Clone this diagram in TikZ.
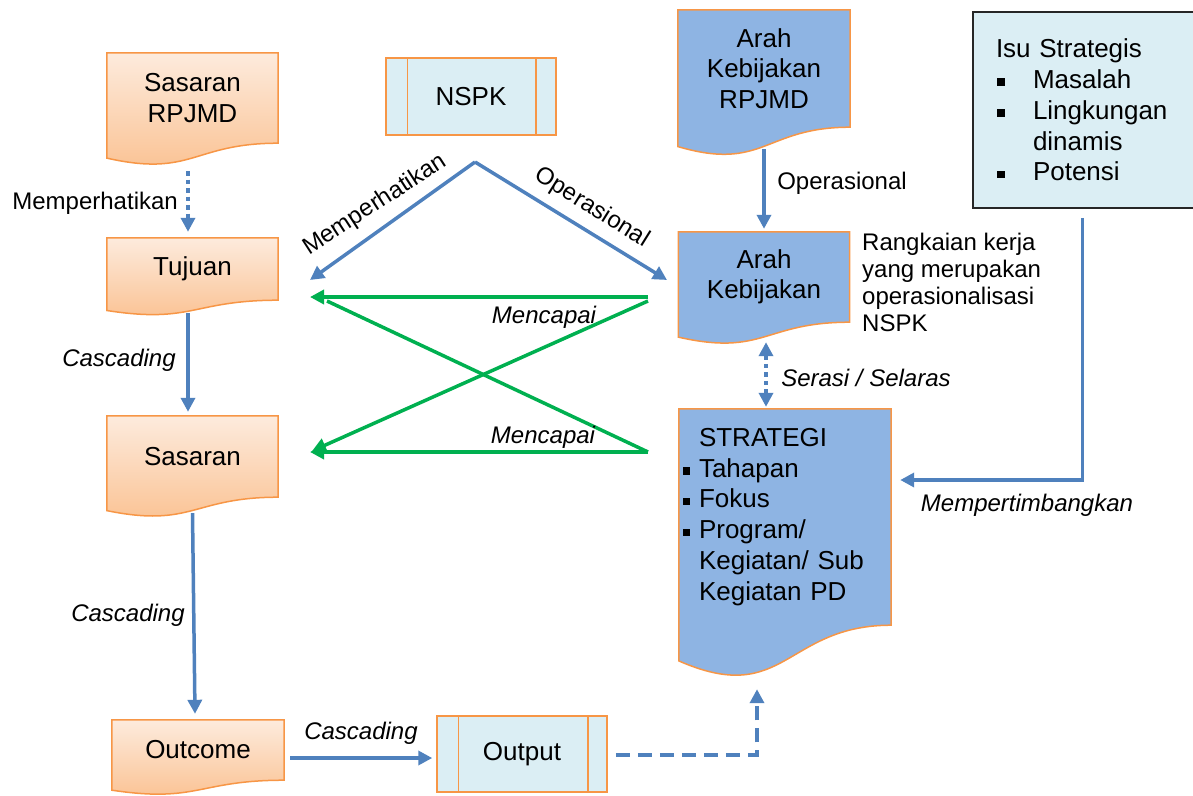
\documentclass[tikz,border=0pt]{standalone}
\usepackage{fontspec}
\setmainfont{Liberation Sans}
\usetikzlibrary{arrows.meta,calc,backgrounds}
\definecolor{orgB}{HTML}{F79646}
\definecolor{orgL}{HTML}{FDEBDD}
\definecolor{orgD}{HTML}{FAC08F}
\definecolor{blueF}{HTML}{8EB4E3}
\definecolor{lblue}{HTML}{DBEEF4}
\definecolor{arr}{HTML}{4F81BD}
\definecolor{grn}{HTML}{00B050}
\newcommand\sqb{\rule[2.5pt]{7.5pt}{7.5pt}}
\newcommand\hbul{\leavevmode\llap{\sqb\hspace{9pt}}}
\newcommand\docshape[2]{%
\begin{pgfonlayer}{background}
\draw[#2] (#1.north west) -- (#1.north east) -- (#1.south east)
  .. controls (#1.south) and ($(#1.north)!1.38!(#1.south)$) ..
  ($(#1.north west)!1.165!(#1.south west)$) -- cycle;
\end{pgfonlayer}}
\begin{document}
\begin{tikzpicture}[x=1pt,y=-1pt,
  box/.style={inner sep=0pt, align=center, font=\fontsize{26}{30.5}\selectfont},
  lbl/.style={inner sep=0pt, font=\fontsize{24}{27}\selectfont},
  ilbl/.style={inner sep=0pt, font=\fontsize{24}{27}\selectfont\itshape},
  orgS/.style={draw=orgB, line width=1.5pt, top color=orgL, bottom color=orgD},
  blueS/.style={draw=orgB, line width=1.5pt, fill=blueF},
  procbox/.style={box, draw=orgB, line width=1.5pt, fill=lblue, minimum width=170pt},
  procline/.style={draw=orgB, line width=1.5pt},
  barr/.style={draw=arr, line width=3.5pt, -{Triangle[length=14pt,width=14pt]}},
  bdarr/.style={draw=arr, line width=3.5pt, {Triangle[length=14pt,width=14pt]}-{Triangle[length=14pt,width=14pt]}},
  garr/.style={draw=grn, line width=3.5pt, -{Triangle[length=14pt,width=14pt]}},
  gline/.style={draw=grn, line width=3.5pt},
  dotline/.style={dash pattern=on 4.5pt off 4pt},
  dashline/.style={dash pattern=on 14pt off 8pt}]
\useasboundingbox (0,0) rectangle (1193,795);

% left column
\node[box, minimum width=171pt, minimum height=90pt] (srp) at (192.5,98) {Sasaran\\RPJMD};
\docshape{srp}{orgS}
\node[box, minimum width=171pt, minimum height=62pt] (tuj) at (192.5,269) {Tujuan};
\docshape{tuj}{orgS}
\node[box, minimum width=171pt, minimum height=81pt] (sas) at (192.5,456.5) {Sasaran};
\docshape{sas}{orgS}
\node[box, minimum width=172pt, minimum height=60pt] (outc) at (198,750) {Outcome};
\docshape{outc}{orgS}

% NSPK and Output
\node[procbox, minimum height=77pt] (nspk) at (471,96.5) {NSPK};
\draw[procline] ($(nspk.north west)+(22,0)$) -- ($(nspk.south west)+(22,0)$);
\draw[procline] ($(nspk.north east)+(-21,0)$) -- ($(nspk.south east)+(-21,0)$);
\node[procbox, minimum height=76pt] (outp) at (522,754) {Output};
\draw[procline] ($(outp.north west)+(22,0)$) -- ($(outp.south west)+(22,0)$);
\draw[procline] ($(outp.north east)+(-20,0)$) -- ($(outp.south east)+(-20,0)$);

% right column
\node[box, minimum width=172pt, minimum height=117pt] (akr) at (764,68.5) {Arah\\Kebijakan\\RPJMD};
\docshape{akr}{blueS}
\node[box, minimum width=171pt, minimum height=90pt] (ak) at (764,277) {Arah\\Kebijakan};
\docshape{ak}{blueS}
\node[box, align=left, inner xsep=20pt, text width=172pt, minimum height=216pt, font=\fontsize{26}{30.8}\selectfont] (str) at (785,517)
 {STRATEGI\\
  \hbul Tahapan\\
  \hbul Fokus\\
  \hbul Program/\\
  Kegiatan/ Sub\\
  Kegiatan PD};
\docshape{str}{blueS}

\node[draw=black!85, line width=1.5pt, fill=lblue, minimum width=227pt, minimum height=196pt,
  inner xsep=23pt, inner ysep=0pt, text width=181pt, align=left, font=\fontsize{26}{30.8}\selectfont] (isu) at (1086.5,110)
 {Isu Strategis\\
  \makebox[37pt][l]{\hspace{1pt}\sqb}Masalah\\
  \makebox[37pt][l]{\hspace{1pt}\sqb}Lingkungan\\
  \hspace*{37pt}dinamis\\
  \makebox[37pt][l]{\hspace{1pt}\sqb}Potensi};

\node[lbl, align=left, anchor=north west] (rk) at (862,233)
 {Rangkaian kerja\\yang merupakan\\operasionalisasi\\NSPK};

% vertical connectors
\draw[barr, dotline] ($(srp.south)+(-4.5,28)$) -- ($(tuj.north)+(-4.5,-6)$);
\draw[barr] ($(tuj.south)+(-4.5,13)$) -- ($(sas.north)+(-4.5,-4)$);
\draw[barr] ($(sas.south)+(0,16)$) -- ($(outc.north)+(-3,-6)$);
\draw[barr] ($(outc.east)+(6,8)$) -- ($(outp.west)+(-4,4)$);
\draw[barr, dashline] ($(outp.east)+(8,1)$) -| ($(str.south)+(-28,64)$);
\draw[barr] ($(akr.south)+(0,22)$) -- ($(ak.north)+(0,-3)$);
\draw[bdarr, dotline] ($(ak.south)+(2,20)$) -- ($(str.north -| ak.south)+(2,-2)$);
\draw[barr] ($(isu.south)+(-4,9)$) |- ($(str.east)+(9,-37)$);

% NSPK fan
\coordinate (apex) at (475,162);
\coordinate (mL) at (310,280);
\coordinate (mR) at (667,280);
\draw[barr] (apex) -- (mL);
\draw[barr] (apex) -- (mR);

% green cross
\coordinate (gTR) at (648,297);
\coordinate (gTL) at (310,297);
\coordinate (gD1) at (648,301);
\coordinate (gD1e) at (312,451);
\coordinate (gBR) at (648,452);
\coordinate (gBL) at (310,452);
\coordinate (gD2e) at (327,301);
\draw[gline] (gBR) -- (gD2e);
\draw[garr] (gTR) -- (gTL);
\draw[garr] (gD1) -- (gD1e);
\draw[garr] (gBR) -- (gBL);

% labels
\node[lbl, anchor=east] (l1) at (178,203) {Memperhatikan};
\node[ilbl] (l2) at (119,360) {Cascading};
\node[ilbl] (l3) at (128,615) {Cascading};
\node[ilbl] (l4) at (361,733) {Cascading};
\node[lbl] (l5) at (842,183) {Operasional};
\node[ilbl] (l6) at (866,378) {Serasi / Selaras};
\node[ilbl] (l7) at (1027,505) {Mempertimbangkan};
\node[ilbl] (l8) at (544,317) {Mencapai};
\node[ilbl] (l9) at (543,437) {Mencapai};
\node[lbl, rotate=33] (l10) at (375,205) {Memperhatikan};
\node[lbl, rotate=-32] (l11) at (592,208) {Operasional};
\end{tikzpicture}
\end{document}
